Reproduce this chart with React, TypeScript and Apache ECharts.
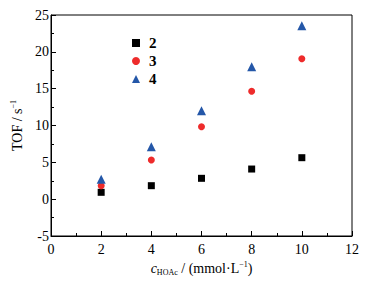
import React, { useEffect, useRef } from "react";
import * as echarts from "echarts";

const xValues = [2, 4, 6, 8, 10];
const series2 = [0.93, 1.83, 2.83, 4.09, 5.63];
const series3 = [1.83, 5.32, 9.84, 14.64, 19.07];
const series4 = [2.7, 7.1, 12.0, 17.98, 23.55];
const seriesNames = ["2", "3", "4"];

const FONT = "'Liberation Serif', 'Times New Roman', serif";

export default function App() {
  const ref = useRef<HTMLDivElement>(null);
  useEffect(() => {
    if (!ref.current) return;
    const chart = echarts.init(ref.current, null, { renderer: "svg" });
    const pair = (ys: number[]) => xValues.map((x, i) => [x, ys[i]]);
    chart.setOption({
      animation: false,
      textStyle: { fontFamily: FONT },
      grid: {
        left: 51,
        top: 15,
        right: 28,
        bottom: 51,
        show: true,
        borderColor: "#000",
        borderWidth: 1,
      },
      legend: {
        orient: "vertical",
        left: 127,
        top: 30,
        itemWidth: 8,
        itemHeight: 8,
        itemGap: 2,
        textStyle: {
          fontFamily: FONT,
          fontSize: 15,
          fontWeight: "bold",
          color: "#000",
          lineHeight: 16,
          padding: [0, 0, 0, 4],
        },
        data: seriesNames,
      },
      xAxis: {
        type: "value",
        min: 0,
        max: 12,
        interval: 2,
        name: "{i|c}{sub|HOAc}{n| / (mmol·L}{sup|−1}{n|)}",
        nameLocation: "middle",
        nameGap: 24,
        nameTextStyle: {
          rich: {
            i: { fontFamily: FONT, fontSize: 14, fontStyle: "italic", color: "#000", lineHeight: 16, verticalAlign: "middle" },
            sub: { fontFamily: FONT, fontSize: 8, color: "#000", lineHeight: 16, verticalAlign: "bottom", padding: [6, 0, 0, 0] },
            n: { fontFamily: FONT, fontSize: 14, color: "#000", lineHeight: 16, verticalAlign: "middle" },
            sup: { fontFamily: FONT, fontSize: 8, color: "#000", lineHeight: 16, verticalAlign: "top", padding: [0, 0, 6, 0] },
          },
        },
        axisLine: { show: true, onZero: false, lineStyle: { color: "#000", width: 1 } },
        axisTick: { show: true, inside: true, length: 5, lineStyle: { color: "#000" } },
        minorTick: { show: true, splitNumber: 2, length: 3, lineStyle: { color: "#000" } },
        axisLabel: { color: "#000", fontFamily: FONT, fontSize: 14, margin: 6 },
        splitLine: { show: false },
      },
      yAxis: {
        type: "value",
        min: -5,
        max: 25,
        interval: 5,
        name: "{n|TOF / s}{sup|−1}",
        nameLocation: "middle",
        nameGap: 22,
        nameTextStyle: {
          rich: {
            n: { fontFamily: FONT, fontSize: 14, color: "#000", lineHeight: 16, verticalAlign: "middle" },
            sup: { fontFamily: FONT, fontSize: 8, color: "#000", lineHeight: 16, verticalAlign: "top", padding: [0, 0, 6, 0] },
          },
        },
        axisLine: { show: true, onZero: false, lineStyle: { color: "#000", width: 1 } },
        axisTick: { show: true, inside: true, length: 5, lineStyle: { color: "#000" } },
        minorTick: { show: true, splitNumber: 2, length: 3, lineStyle: { color: "#000" } },
        axisLabel: { color: "#000", fontFamily: FONT, fontSize: 14, margin: 2 },
        splitLine: { show: false },
      },
      series: [
        {
          name: seriesNames[0],
          type: "scatter",
          symbol: "rect",
          symbolSize: 7,
          itemStyle: { color: "#000000", opacity: 1 },
          data: pair(series2),
        },
        {
          name: seriesNames[1],
          type: "scatter",
          symbol: "circle",
          symbolSize: 7,
          itemStyle: { color: "#ee2b2b", opacity: 1 },
          data: pair(series3),
        },
        {
          name: seriesNames[2],
          type: "scatter",
          symbol: "triangle",
          symbolSize: 9,
          itemStyle: { color: "#2457a8", opacity: 1 },
          data: pair(series4),
        },
      ],
    });
    return () => chart.dispose();
  }, []);
  return <div ref={ref} style={{ width: 380, height: 287, position: "absolute", left: 0, top: 0 }} />;
}
